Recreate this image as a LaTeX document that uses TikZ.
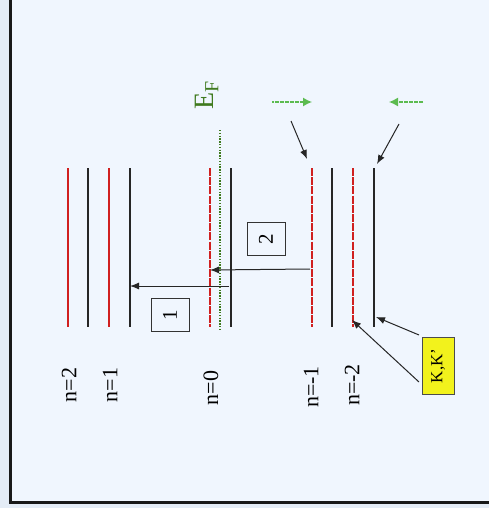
\documentclass[tikz,border=0pt]{standalone}
\usepackage{fontspec}
\setmainfont{Liberation Serif}
\usetikzlibrary{arrows.meta}
\definecolor{bgblue}{HTML}{F0F6FE}
\definecolor{edgeblue}{HTML}{E4ECF6}
\definecolor{levred}{HTML}{D02020}
\definecolor{darkgreen}{HTML}{3F7A1E}
\definecolor{lightgreen}{HTML}{5CBB50}
\definecolor{kyellow}{HTML}{F2F21C}
\tikzset{
  level/.style={line width=2pt, black!85},
  redlevel/.style={line width=2pt, levred},
  reddash/.style={line width=2pt, levred, dash pattern=on 8pt off 1.2pt},
  trans/.style={line width=1pt, black!85, -{Latex[length=9pt,width=7pt]}},
  pointer/.style={line width=1pt, black!85, -{Latex[length=9pt,width=7pt]}},
  greenarrow/.style={line width=1.3pt, lightgreen, dash pattern=on 2pt off 0.5pt, -{Latex[length=9pt,width=9pt]}},
  nlabel/.style={rotate=90, font=\fontsize{22}{22}\selectfont, inner sep=0pt},
  numbox/.style={draw=black!80, line width=1pt, minimum width=33pt, minimum height=38pt, inner sep=0pt, rotate=90, font=\fontsize{21}{21}\selectfont},
}
\begin{document}
\begin{tikzpicture}[x=1pt,y=-1pt]
  % background and frame
  \fill[edgeblue] (0,0) rectangle (489,508);
  \fill[bgblue] (10,0) rectangle (489,502);
  \useasboundingbox (0,0) rectangle (489,508);
  \draw[line width=3pt, black!90] (10,-2) -- (10,502) -- (491,502);

  % Landau levels: endpoints
  \foreach \nm/\x in {a/68, b/88, c/109, d/130, e/210, f/231, g/312, h/332, i/353, j/374}{
    \coordinate (\nm top) at (\x,168);
    \coordinate (\nm bot) at (\x,327);
  }
  \draw[redlevel] (atop) -- (abot);
  \draw[level] (btop) -- (bbot);
  \draw[redlevel] (ctop) -- (cbot);
  \draw[level] (dtop) -- (dbot);
  \draw[reddash] (etop) -- (ebot);
  \draw[level] (ftop) -- (fbot);
  \draw[reddash] (gtop) -- (gbot);
  \draw[level] (htop) -- (hbot);
  \draw[reddash] (itop) -- (ibot);
  \draw[level] (jtop) -- (jbot);

  % Fermi level
  \coordinate (eftop) at (220,130);
  \coordinate (efbot) at (220,331);
  \draw[darkgreen, line width=1.6pt, dash pattern=on 1.4pt off 1.4pt] (eftop) -- (efbot);
  \node[rotate=90, darkgreen, font=\fontsize{28}{28}\selectfont, inner sep=0pt] (ef) at (207,95) {E\raisebox{-0.35ex}{\fontsize{20}{20}\selectfont F}};

  % transitions
  \coordinate (t1s) at (229,286);
  \coordinate (t1e) at (130,286);
  \coordinate (t2s) at (310,269);
  \coordinate (t2e) at (210,270);
  \draw[trans] (t1s) -- (t1e);
  \draw[trans] (t2s) -- (t2e);
  \node[numbox] (box1) at (170,315) {1};
  \node[numbox] (box2) at (266,239) {2};

  % level labels
  \node[nlabel] (n2) at (69,385) {n=2};
  \node[nlabel] (n1) at (110,385) {n=1};
  \node[nlabel] (n0) at (211,388) {n=0};
  \node[nlabel] (nm1) at (311,387) {n=-1};
  \node[nlabel] (nm2) at (352,385) {n=-2};

  % green arrows
  \coordinate (g1s) at (272,102);
  \coordinate (g1e) at (312,102);
  \coordinate (g2s) at (423,102);
  \coordinate (g2e) at (389,102);
  \draw[greenarrow] (g1s) -- (g1e);
  \draw[greenarrow] (g2s) -- (g2e);

  % pointers to the levels
  \coordinate (p1s) at (291,121);
  \coordinate (p1e) at (307,159);
  \coordinate (p2s) at (399,124);
  \coordinate (p2e) at (377,164);
  \draw[pointer] (p1s) -- (p1e);
  \draw[pointer] (p2s) -- (p2e);

  % valley label
  \node[draw=black!70, fill=kyellow, line width=1pt, rotate=90, minimum width=57pt, minimum height=32pt, inner sep=0pt, font=\fontsize{17}{17}\selectfont] (kk) at (438,366) {K,K'};
  \coordinate (k1s) at (419,335);
  \coordinate (k1e) at (376,317);
  \coordinate (k2s) at (419,382);
  \coordinate (k2e) at (352,320);
  \draw[pointer] (k1s) -- (k1e);
  \draw[pointer] (k2s) -- (k2e);
\end{tikzpicture}
\end{document}
